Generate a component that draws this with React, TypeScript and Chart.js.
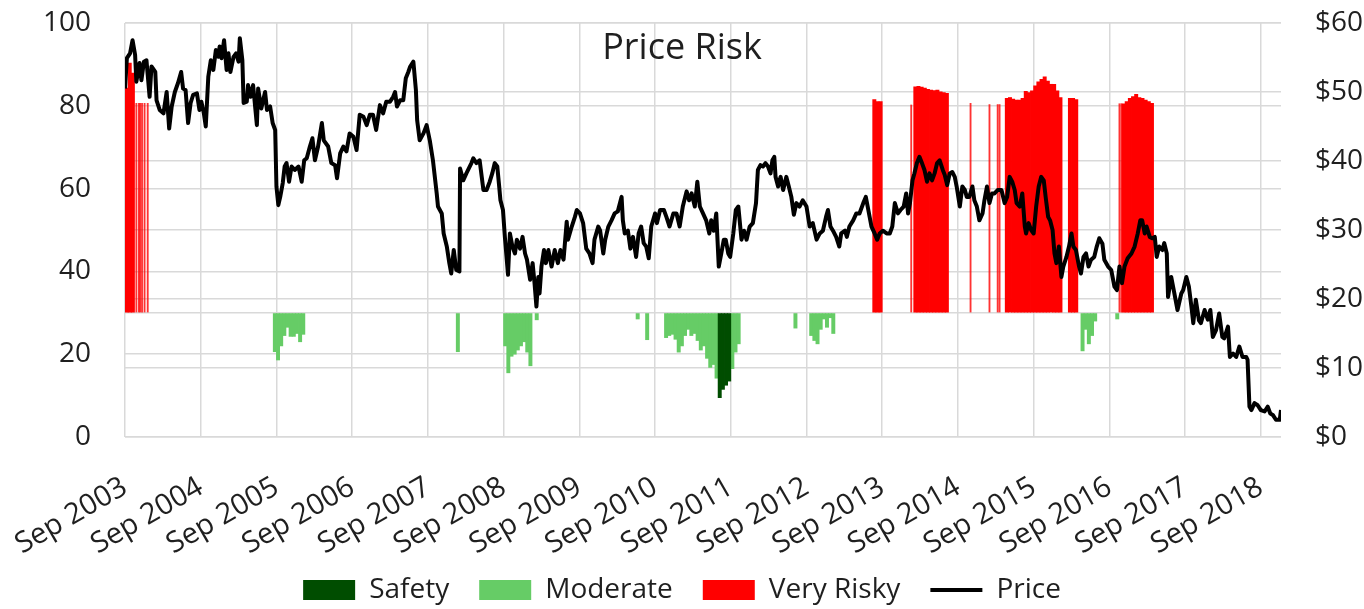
import React, { useEffect, useRef } from 'react';
import { Chart, registerables } from 'chart.js';

Chart.register(...registerables);

// ---- axis labels ----
const tickMonths = [0, 12, 24, 36, 48, 60, 72, 84, 96, 108, 120, 132, 144, 156, 168, 180];
const tickLabels = [
  'Sep 2003', 'Sep 2004', 'Sep 2005', 'Sep 2006', 'Sep 2007', 'Sep 2008', 'Sep 2009', 'Sep 2010',
  'Sep 2011', 'Sep 2012', 'Sep 2013', 'Sep 2014', 'Sep 2015', 'Sep 2016', 'Sep 2017', 'Sep 2018',
];
const scoreTicks = [0, 20, 30, 40, 60, 80, 100];
const xMax = 183.2; // months after Sep 2003 (end of data)

// ---- risk score bars (months since Sep 2003, score) ----
const safetyMonths = [94.25, 94.75, 95.25, 95.75];
const safetyScores = [9.5, 11.5, 12.5, 13.5];

const moderateMonths = [
  23.75, 24.25, 24.75, 25.25, 25.75, 26.25, 26.75, 27.25, 27.75, 28.25,
  52.75,
  60.25, 60.75, 61.25, 61.75, 62.25, 62.75, 63.25, 63.75, 64.25,
  65.25, 81.25, 82.75,
  85.75, 86.25, 86.75, 87.25, 87.75, 88.25, 88.75, 89.25, 89.75, 90.25, 90.75, 91.25, 91.75, 92.25, 92.75, 93.25, 93.75,
  96.25, 96.75, 97.25,
  106.25,
  108.75, 109.25, 109.75, 110.25, 110.75, 111.25, 111.75, 112.25,
  151.75, 152.25, 152.75, 153.25, 153.75,
  157.25,
];
const moderateScores = [
  20.6, 18.6, 22.0, 24.5, 26.5, 24.3, 24.3, 25.0, 23.0, 24.8,
  20.6,
  22.0, 15.5, 19.5, 20.0, 21.0, 22.0, 23.0, 20.5, 17.2,
  28.3, 28.5, 23.5,
  24.0, 24.5, 24.8, 23.6, 20.5, 22.0, 24.5, 26.0, 24.5, 25.0, 23.3, 21.0, 22.0, 19.0, 16.8, 17.5, 14.2,
  16.5, 20.5, 22.5,
  26.3,
  24.5, 23.3, 22.5, 26.0, 28.5, 26.5, 28.8, 25.0,
  20.8, 26.0, 22.5, 24.5, 28.0,
  28.5,
];

const riskyMonths = [
  0.25, 0.75, 1.25,
  118.75, 119.25, 119.75,
  125.25, 125.75, 126.25, 126.75, 127.25, 127.75, 128.25, 128.75, 129.25, 129.75, 130.25,
  139.75, 140.25, 140.75, 141.25, 141.75, 142.25, 142.75, 143.25, 143.75, 144.25, 144.75, 145.25, 145.75, 146.25, 146.75, 147.25, 147.75, 148.25,
  149.75, 150.25, 150.75,
  158.25, 158.75, 159.25, 159.75, 160.25, 160.75, 161.25, 161.75, 162.25, 162.75,
];
const riskyScores = [
  84.3, 90.3, 87.9,
  81.5, 81.0, 81.0,
  84.6, 84.7, 84.5, 84.3, 84.0, 83.8, 83.7, 83.8, 83.4, 83.2, 83.0,
  81.8, 82.0, 81.6, 81.4, 81.4, 81.8, 83.5, 83.2, 83.6, 84.8, 85.8, 86.4, 87.0, 86.0, 85.2, 85.2, 83.6, 82.0,
  81.8, 81.8, 81.5,
  80.5, 81.0, 81.8, 82.2, 82.8, 82.0, 81.8, 81.4, 81.0, 80.6,
];
// single-day "Very Risky" readings (thin lines)
const riskySpikeMonths = [1.8, 2.2, 2.4, 2.7, 3.1, 3.6, 124.6, 134.0, 137.0, 138.3, 138.6, 157.6, 157.9];
const riskySpikeScores = [80.6, 80.6, 80.6, 80.6, 80.6, 80.6, 80.2, 80.6, 80.3, 80.3, 80.3, 80.5, 80.5];

// ---- share price ($) ----
const priceMonths = [
  0.0, 0.3, 0.8, 1.2, 1.6, 1.8, 2.3, 2.6, 3.0, 3.4, 3.9, 4.2, 4.8, 5.0, 5.5, 6.1, 6.6, 7.0, 7.4, 7.9,
  8.4, 8.9, 9.2, 9.6, 10.0, 10.4, 10.8, 11.4, 11.8, 12.1, 12.5, 12.8, 13.2, 13.6, 14.0, 14.4, 14.8, 15.0, 15.3, 15.7,
  16.1, 16.4, 16.7, 17.2, 17.6, 18.0, 18.2, 18.6, 18.8, 19.3, 19.5, 19.9, 20.3, 20.9, 21.1, 21.6, 22.2, 22.5, 23.0, 23.4,
  23.8, 24.0, 24.3, 24.6, 25.0, 25.3, 25.6, 26.0, 26.4, 26.9, 27.5, 28.0, 28.4, 28.8, 29.3, 29.7, 30.1, 30.6, 31.2, 31.5,
  32.2, 32.7, 33.3, 33.6, 34.1, 34.6, 35.1, 35.6, 36.2, 36.7, 37.2, 37.8, 38.3, 38.8, 39.3, 39.8, 40.4, 40.9, 41.4, 42.0,
  42.5, 42.8, 43.1, 43.6, 44.1, 44.5, 44.9, 45.2, 45.7, 46.1, 46.3, 46.7, 47.3, 47.8, 48.3, 48.8, 49.4, 49.6, 50.2, 50.5,
  51.0, 51.4, 51.7, 52.1, 52.5, 53.0, 53.1, 53.6, 54.1, 54.9, 55.2, 55.7, 56.2, 56.8, 57.3, 57.8, 58.2, 58.6, 59.0, 59.3,
  59.5, 59.9, 60.2, 60.5, 60.7, 61.0, 61.4, 61.8, 62.1, 62.6, 63.0, 63.4, 63.7, 64.2, 64.6, 64.9, 65.2, 65.5, 65.7, 66.0,
  66.4, 66.7, 67.1, 67.6, 68.1, 68.6, 69.0, 69.5, 70.0, 70.2, 70.8, 71.3, 71.6, 72.1, 72.6, 73.1, 73.6, 74.1, 74.4, 75.0,
  75.3, 75.8, 76.1, 76.6, 77.1, 77.6, 78.1, 78.7, 78.9, 79.2, 79.7, 80.1, 80.5, 81.0, 81.4, 81.8, 82.2, 82.6, 83.0, 83.4,
  84.0, 84.3, 84.8, 85.4, 85.8, 86.3, 86.9, 87.4, 87.9, 88.4, 89.0, 89.4, 89.8, 90.3, 90.7, 91.1, 91.6, 92.1, 92.6, 92.9,
  93.3, 93.7, 94.1, 94.5, 94.9, 95.2, 95.6, 95.9, 96.4, 96.8, 97.2, 97.7, 98.1, 98.5, 99.0, 99.5, 100.0, 100.3, 100.7, 101.1,
  101.5, 101.9, 102.3, 102.6, 102.9, 103.1, 103.5, 103.9, 104.3, 104.8, 105.2, 105.6, 106.0, 106.4, 106.9, 107.4, 108.0, 108.5, 109.0, 109.6,
  110.1, 110.6, 111.1, 111.4, 111.8, 112.2, 112.7, 113.2, 113.5, 114.1, 114.4, 114.8, 115.4, 115.9, 116.4, 117.0, 117.4, 117.7, 118.3, 118.8,
  119.2, 119.6, 120.1, 120.7, 121.2, 121.6, 122.0, 122.5, 122.9, 123.4, 123.8, 124.1, 124.4, 124.8, 125.1, 125.5, 125.9, 126.3, 126.7, 127.1,
  127.5, 127.9, 128.3, 128.7, 129.1, 129.6, 129.9, 130.3, 130.7, 131.1, 131.5, 131.8, 132.3, 132.7, 133.1, 133.4, 133.8, 134.3, 134.6, 135.0,
  135.4, 135.9, 136.2, 136.6, 137.0, 137.4, 137.8, 138.3, 138.9, 139.4, 139.8, 140.2, 140.6, 141.0, 141.3, 141.8, 142.2, 142.6, 142.8, 143.2,
  143.6, 144.0, 144.4, 144.8, 145.2, 145.6, 145.9, 146.3, 146.6, 147.0, 147.3, 147.6, 148.0, 148.4, 148.7, 149.2, 149.6, 150.0, 150.3, 150.7,
  151.2, 151.5, 151.9, 152.3, 152.7, 153.1, 153.6, 154.0, 154.4, 154.9, 155.2, 155.8, 156.3, 156.8, 157.2, 157.6, 158.0, 158.4, 158.9, 159.5,
  160.0, 160.5, 160.9, 161.2, 161.6, 161.9, 162.4, 162.8, 163.2, 163.5, 163.9, 164.4, 164.7, 165.1, 165.3, 165.8, 166.3, 166.8, 167.4, 167.7,
  168.2, 168.6, 169.0, 169.3, 169.7, 170.2, 170.5, 171.1, 171.6, 172.0, 172.4, 172.9, 173.4, 173.9, 174.2, 174.8, 175.1, 175.6, 176.1, 176.6,
  177.1, 177.7, 177.9, 178.2, 178.5, 179.0, 179.5, 180.0, 180.6, 181.1, 181.5, 181.9, 182.4, 183.0, 183.2,
];
const priceValues = [
  50.5, 54.9, 55.6, 57.5, 55.4, 51.5, 54.2, 51.7, 54.4, 54.6, 49.3, 53.7, 52.9, 48.8, 47.4, 46.9, 50.0, 44.7, 47.9, 50.0,
  51.3, 52.9, 50.5, 50.3, 45.5, 48.4, 49.6, 49.8, 47.4, 48.6, 46.9, 45.0, 52.2, 54.6, 53.2, 56.1, 55.1, 56.6, 54.9, 57.5,
  53.2, 55.6, 52.9, 55.1, 55.6, 54.4, 57.8, 54.6, 48.4, 48.6, 51.0, 49.3, 51.0, 45.2, 50.5, 47.6, 50.0, 47.4, 47.9, 45.5,
  44.5, 36.3, 33.6, 34.8, 36.8, 39.2, 39.7, 37.0, 39.2, 38.7, 39.2, 37.0, 40.1, 40.4, 42.1, 43.3, 40.1, 42.1, 45.5, 43.0,
  42.1, 39.7, 39.4, 37.5, 41.1, 42.1, 41.4, 44.0, 43.5, 41.6, 46.7, 46.4, 45.2, 46.7, 46.7, 44.5, 48.1, 46.9, 48.6, 48.6,
  49.3, 50.0, 47.9, 48.8, 48.8, 52.0, 52.9, 53.7, 54.4, 50.3, 45.9, 43.0, 44.0, 45.2, 43.0, 40.1, 35.3, 33.4, 32.4, 29.5,
  27.6, 25.2, 23.7, 27.1, 24.2, 24.0, 38.9, 37.2, 38.2, 39.7, 40.4, 39.7, 40.1, 35.8, 35.8, 37.0, 38.2, 39.7, 39.2, 36.3,
  34.3, 32.9, 29.0, 25.7, 23.5, 29.5, 27.6, 26.6, 28.6, 27.3, 29.0, 26.6, 25.7, 22.8, 25.2, 22.3, 18.9, 23.2, 20.8, 24.7,
  27.1, 25.2, 27.1, 24.7, 27.1, 25.2, 27.1, 25.7, 31.2, 28.6, 30.5, 31.9, 32.9, 32.4, 31.0, 27.3, 26.6, 25.2, 28.6, 30.5,
  29.9, 26.6, 28.6, 30.5, 31.4, 32.4, 32.7, 34.8, 31.4, 29.5, 29.9, 27.3, 29.0, 26.1, 29.5, 30.5, 28.1, 27.6, 25.9, 30.5,
  32.4, 31.0, 32.9, 32.9, 31.9, 30.5, 32.4, 32.4, 30.5, 33.4, 35.6, 34.3, 35.3, 33.4, 37.0, 33.4, 32.4, 31.4, 29.5, 31.4,
  29.9, 32.4, 24.7, 26.6, 28.6, 28.6, 26.6, 26.1, 29.5, 32.9, 33.4, 28.6, 29.9, 28.6, 30.5, 31.0, 33.9, 38.7, 39.4, 39.2,
  39.7, 39.2, 38.2, 40.1, 40.6, 37.7, 36.3, 37.7, 35.8, 37.7, 36.3, 34.8, 32.2, 33.9, 33.4, 34.3, 33.4, 30.5, 31.0, 28.6,
  29.5, 29.9, 31.9, 32.9, 30.5, 29.9, 29.0, 27.6, 29.5, 29.9, 29.0, 30.5, 31.4, 32.4, 32.4, 33.9, 34.8, 33.4, 30.5, 29.5,
  28.6, 29.5, 29.9, 29.5, 29.5, 30.5, 33.9, 32.4, 32.9, 33.4, 35.3, 32.4, 33.9, 37.2, 38.2, 39.7, 40.6, 39.7, 38.7, 37.0,
  38.2, 37.2, 38.2, 39.7, 40.1, 38.7, 38.0, 36.5, 38.2, 38.4, 37.7, 36.3, 33.4, 36.3, 35.8, 34.8, 34.8, 36.3, 34.3, 33.4,
  31.4, 32.4, 34.3, 36.3, 33.9, 35.3, 35.3, 35.8, 35.8, 33.9, 34.8, 37.7, 37.0, 35.8, 33.9, 33.4, 35.3, 30.5, 29.5, 31.0,
  30.0, 29.5, 33.4, 36.3, 37.7, 37.2, 34.8, 31.9, 31.4, 30.0, 26.6, 25.2, 27.6, 23.2, 24.7, 26.1, 27.6, 29.5, 27.6, 27.1,
  24.7, 23.7, 26.1, 26.6, 24.7, 25.7, 26.1, 27.6, 28.8, 28.0, 25.7, 24.7, 24.2, 21.8, 21.3, 24.7, 22.3, 24.7, 25.9, 26.6,
  27.6, 29.5, 31.4, 31.4, 29.5, 30.5, 29.0, 28.8, 29.0, 26.1, 27.6, 27.1, 28.1, 26.6, 20.3, 23.2, 20.8, 18.4, 20.8, 21.3,
  23.2, 21.8, 18.9, 16.5, 19.9, 16.9, 16.5, 18.4, 17.0, 18.4, 14.5, 15.5, 17.9, 14.5, 14.3, 16.0, 11.6, 12.1, 11.6, 13.1,
  11.6, 11.6, 11.2, 4.4, 3.9, 4.9, 4.6, 3.9, 3.7, 4.4, 3.4, 3.2, 2.5, 2.5, 3.9,
];

const GRID = '#d9d9d9';
const TEXT = '#1f1f1f';
const FONT = "'Open Sans', 'Noto Sans', sans-serif";

function pairs(xs: number[], ys: number[]) {
  return xs.map((x, i) => ({ x, y: ys[i] }));
}

// layout helpers: fix axis sizes, remove label-overflow padding, don't clip labels
function fixSize(prop: 'width' | 'height', size: number) {
  return (s: any) => {
    s[prop] = size;
    s.paddingTop = 0;
    s.paddingBottom = 0;
    s.paddingLeft = 0;
    s.paddingRight = 0;
    s._computeLabelArea = () => undefined;
  };
}

export default function App() {
  const ref = useRef<HTMLCanvasElement>(null);

  useEffect(() => {
    if (!ref.current) return;
    Chart.defaults.font.family = FONT;
    Chart.defaults.color = TEXT;

    const chart = new Chart(ref.current, {
      type: 'bar',
      data: {
        datasets: [
          {
            type: 'bar', label: 'Safety', data: pairs(safetyMonths, safetyScores),
            backgroundColor: '#004d00', borderWidth: 0, base: 30, grouped: false, barThickness: 3.3, yAxisID: 'y',
          },
          {
            type: 'bar', label: 'Moderate', data: pairs(moderateMonths, moderateScores),
            backgroundColor: '#66cc66', borderWidth: 0, base: 30, grouped: false, barThickness: 3.3, yAxisID: 'y',
          },
          {
            type: 'bar', label: 'Very Risky', data: pairs(riskyMonths, riskyScores),
            backgroundColor: '#ff0000', borderWidth: 0, base: 30, grouped: false, barThickness: 3.3, yAxisID: 'y',
          },
          {
            type: 'bar', label: 'Very Risky (single day)', hideInLegend: true, data: pairs(riskySpikeMonths, riskySpikeScores),
            backgroundColor: 'rgba(255,0,0,0.8)', borderWidth: 0, base: 30, grouped: false, barThickness: 1.2, yAxisID: 'y',
          },
          {
            type: 'line', label: 'Price', data: pairs(priceMonths, priceValues),
            borderColor: '#000000', backgroundColor: '#000000', borderWidth: 4, pointRadius: 0,
            tension: 0, borderJoinStyle: 'round', yAxisID: 'y1', order: -1,
          } as any,
        ],
      },
      options: {
        responsive: false,
        animation: false,
        layout: { padding: { left: 0, right: 0, top: 23, bottom: -5 } },
        plugins: {
          title: {
            display: true, text: 'Price Risk', color: TEXT,
            font: { size: 36, weight: 'normal' as any, family: FONT },
            padding: { top: 4, bottom: -47.2 },
          },
          legend: {
            position: 'bottom',
            labels: {
              usePointStyle: true, pointStyleWidth: 52, boxHeight: 20, padding: 30, color: TEXT,
              font: { size: 28, family: FONT },
              sort: (a: any, b: any) => a.datasetIndex - b.datasetIndex,
              filter: (item: any, data: any) => !data.datasets[item.datasetIndex].hideInLegend,
              generateLabels: (c: any) =>
                Chart.defaults.plugins.legend.labels.generateLabels(c).map((l: any) => ({
                  ...l,
                  pointStyle: c.data.datasets[l.datasetIndex].type === 'line' ? 'line' : 'rect',
                })),
            },
          },
          tooltip: { enabled: false },
        },
        scales: {
          x: {
            type: 'linear', min: 0, max: xMax, offset: false,
            grid: { color: GRID, lineWidth: 1.5, drawTicks: false, offset: false },
            border: { display: false },
            afterBuildTicks: (s: any) => { s.ticks = tickMonths.map((v) => ({ value: v })); },
            afterFit: fixSize('height', 109),
            ticks: {
              autoSkip: false, maxRotation: 30, minRotation: 30, padding: 33, color: TEXT,
              font: { size: 29, family: FONT },
              callback: (v: any) => tickLabels[tickMonths.indexOf(Number(v))] ?? '',
            },
          },
          y: {
            position: 'left', min: 0, max: 100,
            grid: { color: GRID, lineWidth: 1.5, drawTicks: false },
            border: { display: false },
            afterBuildTicks: (s: any) => { s.ticks = scoreTicks.map((v) => ({ value: v })); },
            afterFit: fixSize('width', 125),
            ticks: {
              padding: 34, color: TEXT, font: { size: 28, family: FONT },
              callback: (v: any) => (Number(v) === 30 ? '' : String(v)),
            },
          },
          y1: {
            position: 'right', min: 0, max: 60,
            grid: { color: GRID, lineWidth: 1.5, drawTicks: false },
            border: { display: false },
            afterFit: fixSize('width', 83),
            ticks: {
              stepSize: 10, padding: 34, color: TEXT, font: { size: 28, family: FONT },
              callback: (v: any) => '$' + v,
            },
          },
        },
      } as any,
    });
    return () => chart.destroy();
  }, []);

  return (
    <div style={{ position: 'fixed', left: 0, top: 0, width: 1364, height: 609, background: '#ffffff' }}>
      <canvas ref={ref} width={1364} height={609} style={{ display: 'block', width: 1364, height: 609 }} />
    </div>
  );
}
